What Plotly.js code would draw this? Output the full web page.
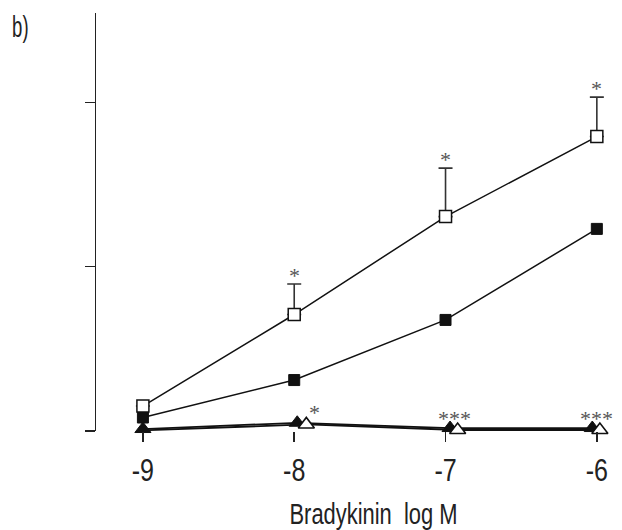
<!DOCTYPE html>
<html>
<head>
<meta charset="utf-8">
<script src="https://cdn.plot.ly/plotly-3.0.1.min.js"></script>
<style>html,body{margin:0;padding:0;background:#fff;}#chart{width:622px;height:530px;}</style>
</head>
<body>
<div id="chart"></div>
<script>
// Bradykinin concentration (log M)
var doses = [-9, -8, -7, -6];
var tickLabels = ['-9', '-8', '-7', '-6'];
// open squares
var openSquare = [0.152, 0.709, 1.305, 1.792];
var openSquareErr = [0, 0.186, 0.295, 0.24];
var openSquareStars = ['', '*', '*', '*'];
// filled squares
var filledSquare = [0.082, 0.31, 0.676, 1.23];
// filled triangles
var filledTriX = [-9, -7.98, -6.97, -6.03];
var filledTri = [0.012, 0.05, 0.018, 0.018];
// open triangles
var openTriX = [-9, -7.92, -6.92, -5.98];
var openTri = [0.004, 0.04, 0.006, 0.006];
var triStars = ['', '*', '***', '***'];

var FONT = 'Liberation Sans, Arial, Helvetica, sans-serif';
var STARFONT = 'Liberation Serif, Times New Roman, serif';

var traces = [
  {x: openTriX, y: openTri, mode: 'lines', type: 'scatter', cliponaxis: false,
   line: {color: '#111', width: 1.8}},
  {x: filledTriX, y: filledTri, mode: 'lines+markers', type: 'scatter', cliponaxis: false,
   line: {color: '#111', width: 1.8},
   marker: {symbol: 'triangle-up', size: 14, color: '#111', line: {color: '#111', width: 1}}},
  {x: openTriX.slice(1), y: openTri.slice(1), mode: 'markers', type: 'scatter', cliponaxis: false,
   marker: {symbol: 'triangle-up', size: 14, color: '#fff', line: {color: '#111', width: 1.6}}},
  {x: doses, y: filledSquare, mode: 'lines+markers', type: 'scatter', cliponaxis: false,
   line: {color: '#111', width: 1.5},
   marker: {symbol: 'square', size: 11, color: '#111', line: {color: '#111', width: 1}}},
  {x: doses, y: openSquare, mode: 'lines+markers', type: 'scatter', cliponaxis: false,
   line: {color: '#111', width: 1.5},
   error_y: {type: 'data', symmetric: false, array: openSquareErr,
     arrayminus: [0, 0, 0, 0], color: '#333', thickness: 1.6, width: 7},
   marker: {symbol: 'square', size: 12, color: '#fff', line: {color: '#111', width: 1.5}}}
];

var annotations = [];
for (var i = 0; i < doses.length; i++) {
  if (openSquareStars[i]) {
    annotations.push({x: doses[i], y: openSquare[i] + openSquareErr[i], xref: 'x', yref: 'y',
      text: openSquareStars[i], showarrow: false, yanchor: 'bottom', yshift: -6,
      font: {family: STARFONT, size: 22, color: '#555'}});
  }
  if (triStars[i]) {
    annotations.push({x: openTriX[i], y: openTri[i], xref: 'x', yref: 'y',
      text: triStars[i], showarrow: false, yanchor: 'bottom', yshift: -3,
      xshift: (triStars[i] === '*') ? 8 : -3,
      font: {family: STARFONT, size: 22, color: '#555'}});
  }
}
annotations.push({x: 0, y: 1, xref: 'paper', yref: 'paper', xanchor: 'left', yanchor: 'top',
  xshift: -91, yshift: 5, text: 'b)', showarrow: false, font: {family: FONT, size: 30, color: '#222'}});

var layout = {
  width: 622, height: 530,
  margin: {l: 96, r: 7, t: 13, b: 99},
  paper_bgcolor: '#fff', plot_bgcolor: '#fff',
  showlegend: false,
  font: {family: FONT, color: '#222'},
  xaxis: {range: [-9.31, -5.88], showline: false, zeroline: false, showgrid: false,
    tickmode: 'array', tickvals: doses, ticktext: tickLabels,
    ticks: 'outside', ticklen: 10, tickwidth: 1.5, tickcolor: '#222', ticklabelstandoff: 2,
    tickfont: {family: FONT, size: 31, color: '#222'},
    title: {text: 'Bradykinin  log M', font: {family: FONT, size: 30, color: '#222'}, standoff: 19}},
  yaxis: {range: [0, 2.544], showline: true, linecolor: '#222', linewidth: 1.5, zeroline: false,
    showgrid: false, tickmode: 'array', tickvals: [0, 1, 2], showticklabels: false,
    ticks: 'outside', ticklen: 10, tickwidth: 1.5, tickcolor: '#222'},
  annotations: annotations
};

function squeeze(el, ratio, dx) {
  var w = el.getComputedTextLength();
  el.setAttribute('lengthAdjust', 'spacingAndGlyphs');
  el.setAttribute('textLength', (w * ratio).toFixed(1));
  if (dx) el.setAttribute('x', (parseFloat(el.getAttribute('x')) + dx).toFixed(1));
}

Plotly.newPlot('chart', traces, layout, {staticPlot: true, displayModeBar: false}).then(function (gd) {
  gd.querySelectorAll('.xtick text').forEach(function (t) { squeeze(t, 0.81, 0); });
  gd.querySelectorAll('.g-xtitle text').forEach(function (t) { squeeze(t, 0.73, 18); });
  gd.querySelectorAll('.annotation-text').forEach(function (t) {
    if (t.textContent === 'b)') squeeze(t, 0.62, 0);
  });
});
</script>
</body>
</html>
